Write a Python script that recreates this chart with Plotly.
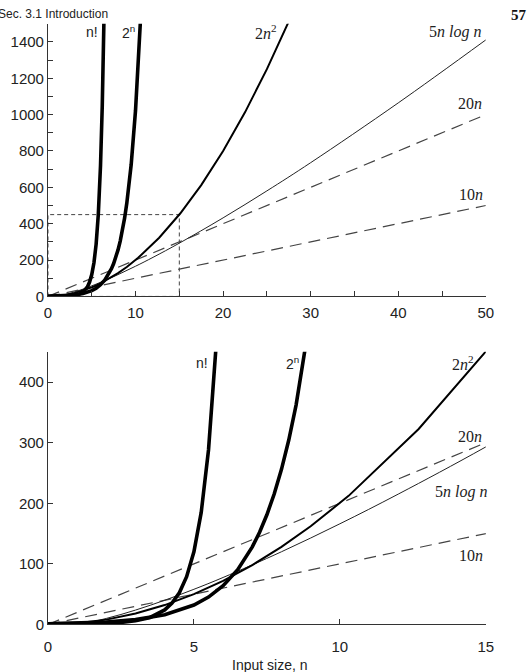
import plotly.graph_objects as go

# ---- data ----
n_fact = [0, 0.5, 1, 1.5, 2, 2.5, 3, 3.5, 4, 4.25, 4.5, 4.75, 5, 5.25, 5.5, 5.75, 6, 6.2, 6.4]
v_fact = [1, 0.886, 1, 1.329, 2, 3.323, 6, 11.63, 24, 35.21, 52.34, 78.78, 120, 184.9, 287.9, 453.0, 720, 1050, 1541]

n_pow = [0, 1, 2, 3, 4, 5, 5.5, 6, 6.5, 7, 7.25, 7.5, 7.75, 8, 8.25, 8.5, 8.75, 9, 9.5, 10, 10.5, 10.6]
v_pow = [1, 2, 4, 8, 16, 32, 45.25, 64, 90.51, 128, 152.2, 181.0, 215.3, 256, 304.4, 362.0, 430.5, 512, 724.1, 1024, 1448.2, 1552.1]

n_sq = [0, 1, 2, 3, 4, 5, 6, 7, 8, 9, 10.3, 12.7, 15.1, 17.5, 20, 22.5, 25, 27.5]
v_sq = [0, 2, 8, 18, 32, 50, 72, 98, 128, 162, 212.2, 322.6, 456.0, 612.5, 800, 1012.5, 1250, 1512.5]

n_log = [0, 1, 2, 3, 4, 5, 6, 8, 10, 12, 15, 20, 25, 30, 40, 50]
v_log = [0, 0, 10, 23.77, 40, 58.05, 77.55, 120, 166.1, 215.1, 293.0, 432.2, 580.5, 735.7, 1064.4, 1410.9]

n_lin = [0, 50]
v_20n = [0, 1000]
v_10n = [0, 500]

box_x = [0, 0, 15, 15, 0]
box_y = [0, 450, 450, 0, 0]

x_ticks_top = [0, 10, 20, 30, 40, 50]
y_ticks_top = [0, 200, 400, 600, 800, 1000, 1200, 1400]
x_ticks_bot = [0, 5, 10, 15]
y_ticks_bot = [0, 100, 200, 300, 400]

W, H = 528, 672

fig = go.Figure()

def add_curves(xa, ya, show_box):
    if show_box:
        fig.add_trace(go.Scatter(x=box_x, y=box_y, mode="lines", xaxis=xa, yaxis=ya,
                                 line=dict(color="#444", width=1, dash="4px,3px"), hoverinfo="skip"))
    fig.add_trace(go.Scatter(x=n_lin, y=v_10n, mode="lines", xaxis=xa, yaxis=ya,
                             line=dict(color="#444", width=1.2, dash="12px,7px")))
    fig.add_trace(go.Scatter(x=n_lin, y=v_20n, mode="lines", xaxis=xa, yaxis=ya,
                             line=dict(color="#444", width=1.2, dash="12px,7px")))
    fig.add_trace(go.Scatter(x=n_log, y=v_log, mode="lines", xaxis=xa, yaxis=ya,
                             line=dict(color="#222", width=1, shape="spline")))
    fig.add_trace(go.Scatter(x=n_sq, y=v_sq, mode="lines", xaxis=xa, yaxis=ya,
                             line=dict(color="#000", width=2)))
    fig.add_trace(go.Scatter(x=n_pow, y=v_pow, mode="lines", xaxis=xa, yaxis=ya,
                             line=dict(color="#000", width=3.6)))
    fig.add_trace(go.Scatter(x=n_fact, y=v_fact, mode="lines", xaxis=xa, yaxis=ya,
                             line=dict(color="#000", width=3.6)))

add_curves("x", "y", True)
add_curves("x2", "y2", False)

tickfont = dict(family="Liberation Sans, Arial, sans-serif", size=15, color="#222")
axcommon = dict(showgrid=False, zeroline=False, showline=True, linecolor="#333", linewidth=1,
                ticks="inside", ticklen=5, tickcolor="#333", tickfont=tickfont, fixedrange=True)

xd = [45 / W, 493 / W]
fig.update_layout(
    width=W, height=H,
    margin=dict(l=0, r=0, t=0, b=0),
    paper_bgcolor="white", plot_bgcolor="white",
    showlegend=False,
    xaxis=dict(domain=xd, range=[0, 50], tickvals=x_ticks_top, anchor="y", ticklabelstandoff=3,
               minor=dict(dtick=5, tick0=0, ticks="inside", ticklen=5, tickcolor="#333"), **axcommon),
    yaxis=dict(domain=[(H - 300) / H, (H - 24) / H], range=[0, 1500], tickvals=y_ticks_top, anchor="x",
               minor=dict(dtick=100, tick0=0, ticks="inside", ticklen=5, tickcolor="#333"), **axcommon),
    xaxis2=dict(domain=xd, range=[0, 15], tickvals=x_ticks_bot, anchor="y2", ticklabelstandoff=9, **axcommon),
    yaxis2=dict(domain=[(H - 632) / H, (H - 356) / H], range=[0, 450], tickvals=y_ticks_bot, anchor="x2", **axcommon),
)

serif = dict(family="Liberation Serif, Times New Roman, serif", size=16, color="#222")
sans = dict(family="Liberation Sans, Arial, sans-serif", size=14, color="#222")

labels_top = [
    (5.0, 1457, "n!", sans), (9.15, 1457, "2<sup>n</sup>", sans),
    (24.9, 1457, "2<i>n</i><sup>2</sup>", serif), (46.5, 1457, "5<i>n log n</i>", serif),
    (48.2, 1060, "20<i>n</i>", serif), (48.3, 560, "10<i>n</i>", serif),
]
labels_bot = [
    (5.29, 431, "n!", sans), (8.37, 431, "2<sup>n</sup>", sans),
    (14.23, 431, "2<i>n</i><sup>2</sup>", serif), (14.46, 310, "20<i>n</i>", serif),
    (14.16, 219, "5<i>n log n</i>", serif), (14.5, 113, "10<i>n</i>", serif),
]
for x, y, t, f in labels_top:
    fig.add_annotation(x=x, y=y, xref="x", yref="y", text=t, showarrow=False, font=f)
for x, y, t, f in labels_bot:
    fig.add_annotation(x=x, y=y, xref="x2", yref="y2", text=t, showarrow=False, font=f)

fig.add_annotation(x=-8 / W, y=(H - 14) / H, xref="paper", yref="paper", xanchor="left", yanchor="middle",
                   text="Sec. 3.1 Introduction", showarrow=False,
                   font=dict(family="Liberation Sans, Arial, sans-serif", size=12, color="#222"))
fig.add_annotation(x=517 / W, y=(H - 15) / H, xref="paper", yref="paper", xanchor="left", yanchor="middle",
                   text="<b>57</b>", showarrow=False,
                   font=dict(family="Liberation Serif, serif", size=15, color="#111"))
fig.add_annotation(x=272 / W, y=(H - 663) / H, xref="paper", yref="paper", xanchor="center", yanchor="top",
                   text="Input size, n", showarrow=False,
                   font=dict(family="Liberation Sans, Arial, sans-serif", size=14, color="#222"))

fig.write_html("out.html")
